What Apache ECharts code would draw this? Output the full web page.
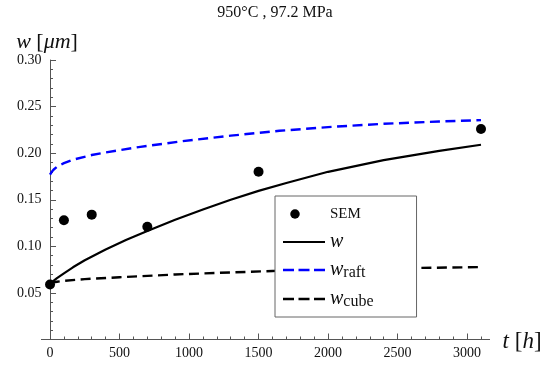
<!DOCTYPE html>
<html>
<head>
<meta charset="utf-8">
<script src="https://cdn.jsdelivr.net/npm/echarts@6/dist/echarts.min.js"></script>
<style>
  html, body { margin: 0; padding: 0; background: #fff; }
  #chart { width: 550px; height: 365px; }
</style>
</head>
<body>
<div id="chart"></div>
<script>
// Measured widths (SEM) and model curves, 950°C / 97.2 MPa
const semT = [0, 100, 300, 700, 1500, 3100];
const semW = [0.059, 0.128, 0.134, 0.121, 0.180, 0.226];

const wT = [0, 25, 50, 100, 165, 250, 400, 550, 700, 900, 1100, 1300, 1500, 1700, 2000, 2400, 2800, 3100];
const wVals = [0.060, 0.0630, 0.0658, 0.0710, 0.0775, 0.0850, 0.0965, 0.1070, 0.1165, 0.1285, 0.1395, 0.1500, 0.1595, 0.1680, 0.1800, 0.1925, 0.2025, 0.2090];

const raftT = [0, 10, 25, 50, 100, 170, 300, 400, 650, 950, 1300, 1650, 2000, 2400, 2800, 3100];
const raftVals = [0.177, 0.1795, 0.1822, 0.1853, 0.1893, 0.1932, 0.1980, 0.2008, 0.2068, 0.2128, 0.2188, 0.2240, 0.2280, 0.2315, 0.2340, 0.2355];

const cubeT = [0, 15, 50, 100, 250, 500, 900, 1300, 1600, 2000, 2500, 3100];
const cubeVals = [0.060, 0.0610, 0.0620, 0.0630, 0.0648, 0.0668, 0.0698, 0.0720, 0.0735, 0.0750, 0.0765, 0.0777];

const xMajorTicks = [0, 500, 1000, 1500, 2000, 2500, 3000];
const xMinorTicks = [100, 200, 300, 400, 600, 700, 800, 900, 1100, 1200, 1300, 1400,
  1600, 1700, 1800, 1900, 2100, 2200, 2300, 2400, 2600, 2700, 2800, 2900, 3100];

const titleText = '950°C , 97.2 MPa';
const seriesNames = ['SEM', 'w', 'w_raft', 'w_cube'];

const pairs = (xs, ys) => xs.map((x, i) => [x, ys[i]]);

const SERIF = 'Liberation Serif';
const AXIS_GRAY = '#555';
const X_MIN = -62, X_MAX = 3162;

const legendIcons = {
  SEM: 'path://M0,0M42,20M7.25,10a4.75,4.75 0 1,0 9.5,0a4.75,4.75 0 1,0 -9.5,0z',
  w: 'path://M0,0M42,20M0,8.9h42v2.2h-42z',
  dashed: 'path://M0,0M42,20M0,8.8h11v2.4h-11zM15.5,8.8h11v2.4h-11zM31,8.8h11v2.4h-11z'
};

const chart = echarts.init(document.getElementById('chart'), null, { renderer: 'canvas' });

chart.setOption({
  animation: false,
  backgroundColor: '#fff',
  textStyle: { fontFamily: SERIF },
  title: {
    text: titleText,
    left: 'center',
    top: 0,
    textStyle: { fontFamily: SERIF, fontSize: 16, fontWeight: 'normal', color: '#111' }
  },
  grid: { left: 41.4, right: 60.4, top: 60, bottom: 25.5, containLabel: false },
  xAxis: [
    {
      type: 'value',
      min: X_MIN,
      max: X_MAX,
      position: 'bottom',
      name: '{i|t} [{i|h}]',
      nameLocation: 'end',
      nameGap: 13,
      nameTextStyle: {
        fontFamily: SERIF, fontSize: 23, color: '#111', verticalAlign: 'middle', padding: [5, 0, 0, 0],
        rich: { i: { fontFamily: SERIF, fontSize: 23, fontStyle: 'italic', color: '#111' } }
      },
      axisLine: { show: true, onZero: true, lineStyle: { color: AXIS_GRAY, width: 1 } },
      axisTick: { show: true, inside: true, length: 6, customValues: xMajorTicks, lineStyle: { color: AXIS_GRAY } },
      axisLabel: {
        show: true, customValues: xMajorTicks, margin: 7,
        fontFamily: SERIF, fontSize: 14, color: '#111',
        formatter: v => String(v)
      },
      splitLine: { show: false }
    },
    {
      // minor ticks of the time axis, sharing the bottom line
      type: 'value',
      min: X_MIN,
      max: X_MAX,
      position: 'bottom',
      offset: 0,
      axisLine: { show: false, onZero: true },
      axisTick: { show: true, inside: true, length: 3, customValues: xMinorTicks, lineStyle: { color: AXIS_GRAY } },
      axisLabel: { show: false },
      splitLine: { show: false }
    }
  ],
  yAxis: {
    type: 'value',
    min: 0,
    max: 0.30,
    interval: 0.05,
    name: '{i|w} [{i|μm}]',
    nameLocation: 'end',
    nameGap: 7,
    nameTextStyle: {
      fontFamily: SERIF, fontSize: 22, color: '#111', align: 'center', padding: [0, 6, 0, 0],
      rich: { i: { fontFamily: SERIF, fontSize: 22, fontStyle: 'italic', color: '#111' } }
    },
    axisLine: { show: true, onZero: true, lineStyle: { color: AXIS_GRAY, width: 1 } },
    axisTick: { show: true, inside: true, length: 6, lineStyle: { color: AXIS_GRAY } },
    minorTick: { show: true, splitNumber: 5, length: 3, lineStyle: { color: AXIS_GRAY } },
    axisLabel: {
      margin: 0, fontFamily: SERIF, fontSize: 14, color: '#111',
      formatter: v => (v === 0 ? '' : v.toFixed(2))
    },
    splitLine: { show: false },
    minorSplitLine: { show: false }
  },
  legend: {
    orient: 'vertical',
    left: 275,
    top: 196,
    padding: [8, 43, 7, 8],
    itemGap: 8,
    itemWidth: 42,
    itemHeight: 20,
    itemTextGap: 7,
    borderColor: '#666',
    borderWidth: 1,
    backgroundColor: '#fff',
    data: [
      { name: 'SEM', icon: legendIcons.SEM },
      { name: 'w', icon: legendIcons.w },
      { name: 'w_raft', icon: legendIcons.dashed },
      { name: 'w_cube', icon: legendIcons.dashed }
    ],
    formatter: name => {
      if (name === 'SEM') return '{s|SEM}';
      if (name === 'w') return '{i|w}';
      return '{i|w}{sub|' + name.split('_')[1] + '}';
    },
    textStyle: {
      fontFamily: SERIF,
      color: '#111',
      rich: {
        s: { fontFamily: SERIF, fontSize: 15, color: '#111', lineHeight: 20 },
        i: { fontFamily: SERIF, fontSize: 20, fontStyle: 'italic', color: '#111', lineHeight: 20, verticalAlign: 'top' },
        sub: { fontFamily: SERIF, fontSize: 16, color: '#111', lineHeight: 13, padding: [5, 0, 0, 0], verticalAlign: 'top' }
      }
    }
  },
  series: [
    {
      name: seriesNames[1],
      type: 'line',
      xAxisIndex: 0,
      data: pairs(wT, wVals),
      showSymbol: false,
      symbol: 'none',
      smooth: false,
      color: '#000',
      lineStyle: { color: '#000', width: 2.2 },
      z: 3
    },
    {
      name: seriesNames[2],
      type: 'line',
      xAxisIndex: 0,
      data: pairs(raftT, raftVals),
      showSymbol: false,
      symbol: 'none',
      smooth: false,
      color: '#0000ff',
      lineStyle: { color: '#0000ff', width: 2.4, type: [10, 5.5] },
      z: 3
    },
    {
      name: seriesNames[3],
      type: 'line',
      xAxisIndex: 0,
      data: pairs(cubeT, cubeVals),
      showSymbol: false,
      symbol: 'none',
      smooth: false,
      color: '#000',
      lineStyle: { color: '#000', width: 2.4, type: [10, 5.5] },
      z: 3
    },
    {
      name: seriesNames[0],
      type: 'scatter',
      xAxisIndex: 0,
      data: pairs(semT, semW),
      symbol: 'circle',
      symbolSize: 10,
      color: '#000',
      itemStyle: { color: '#000', opacity: 1 },
      z: 5
    }
  ]
});
</script>
</body>
</html>
